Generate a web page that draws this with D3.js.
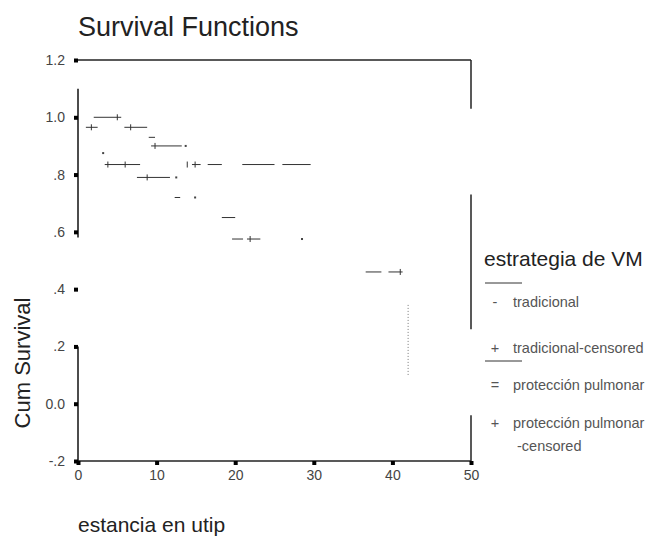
<!DOCTYPE html>
<html>
<head>
<meta charset="utf-8">
<script src="https://cdn.jsdelivr.net/npm/d3@7"></script>
<style>
    body { margin: 0; background: #fff; }
    svg { font-family: "Liberation Sans", Arial, sans-serif; }
</style>
</head>
<body>
<svg id="chart" width="659" height="537"></svg>
<script>
// tick values and labels
const xTicks = [0, 10, 20, 30, 40, 50];
const yTicks = [-0.2, 0, 0.2, 0.4, 0.6, 0.8, 1.0, 1.2];
const yTickLabels = ["-.2", "0.0", ".2", ".4", ".6", ".8", "1.0", "1.2"];

// survival steps: [start, end, cum survival]
const tradicionalSteps = [
    [2, 5.5, 1.0], [5.9, 8.8, 0.965], [9.0, 9.8, 0.93], [9.3, 13.2, 0.90],
    [14.5, 15.6, 0.835], [16.5, 18.3, 0.835], [20.9, 25, 0.835], [26, 29.6, 0.835]
];
const tradicionalCensored = [[5, 1.0], [6.7, 0.965], [9.8, 0.90], [13.9, 0.835], [14.9, 0.835]];

const proteccionSteps = [
    [1, 2.5, 0.965], [3.4, 7.9, 0.835], [7.5, 11.7, 0.79], [12.3, 13, 0.72],
    [18.3, 20, 0.65], [19.6, 21, 0.575], [21.5, 23.2, 0.575],
    [36.6, 38.6, 0.46], [39.5, 41.3, 0.46]
];
const proteccionCensored = [[1.7, 0.965], [3.8, 0.835], [6, 0.835], [8.8, 0.79], [21.9, 0.575], [41, 0.46]];
const proteccionDots = [[12.5, 0.79], [14.9, 0.72], [28.5, 0.575], [13.7, 0.90], [3.2, 0.875]];
// last drop at day 42
const proteccionDrop = [42, 0.345, 0.094];

// frame pieces that were actually drawn
const leftFrame = [[1.1, 0.58], [0.2, -0.2]];
const rightFrame = [[1.2, 1.03], [0.73, 0.26], [-0.04, -0.2]];

const svg = d3.select("#chart");

const x = d3.scaleLinear().domain([0, 50]).range([78, 471]);
const y = d3.scaleLinear().domain([-0.2, 1.2]).range([461, 60]);

// frame
svg.append("line")
    .attr("x1", x(0)).attr("x2", x(50))
    .attr("y1", y(1.2)).attr("y2", y(1.2))
    .attr("stroke", "#222").attr("stroke-width", 1.5);

svg.append("line")
    .attr("x1", x(0)).attr("x2", x(50))
    .attr("y1", y(-0.2)).attr("y2", y(-0.2))
    .attr("stroke", "#222").attr("stroke-width", 1.5);

svg.selectAll(".lframe")
    .data(leftFrame)
    .join("line")
    .attr("x1", x(0)).attr("x2", x(0))
    .attr("y1", d => y(d[0])).attr("y2", d => y(d[1]))
    .attr("stroke", "#111").attr("stroke-width", 1.5);

svg.selectAll(".rframe")
    .data(rightFrame)
    .join("line")
    .attr("x1", x(50)).attr("x2", x(50))
    .attr("y1", d => y(d[0])).attr("y2", d => y(d[1]))
    .attr("stroke", "#222").attr("stroke-width", 1.5);

// axes
const yAxis = svg.append("g")
    .attr("transform", `translate(${x(0)},0)`)
    .call(d3.axisLeft(y).tickValues(yTicks).tickFormat((d, i) => yTickLabels[i]).tickSize(0).tickPadding(13));
yAxis.select(".domain").remove();
yAxis.selectAll(".tick text").attr("font-size", 14).attr("fill", "#444")
    .attr("font-family", "Liberation Sans, Arial, sans-serif");
yAxis.selectAll(".tick").append("rect")
    .attr("x", -4).attr("y", -2).attr("width", 4).attr("height", 4).attr("fill", "#000");

const xAxis = svg.append("g")
    .attr("transform", `translate(0,${y(-0.2)})`)
    .call(d3.axisBottom(x).tickValues(xTicks).tickSize(0).tickPadding(9));
xAxis.select(".domain").remove();
xAxis.selectAll(".tick text").attr("font-size", 14).attr("fill", "#444")
    .attr("font-family", "Liberation Sans, Arial, sans-serif");
xAxis.selectAll(".tick").append("rect")
    .attr("x", -2).attr("y", 0).attr("width", 4).attr("height", 4).attr("fill", "#000");

// survival curves (horizontal pieces only, like the source)
const curves = svg.append("g").attr("stroke", "#333").attr("stroke-width", 1);

function drawSteps(steps, censored) {
    curves.append("g").selectAll("line")
        .data(steps)
        .join("line")
        .attr("x1", d => x(d[0])).attr("x2", d => x(d[1]))
        .attr("y1", d => y(d[2])).attr("y2", d => y(d[2]));

    curves.append("g").selectAll("path")
        .data(censored)
        .join("path")
        .attr("fill", "none")
        .attr("d", d => `M${x(d[0])},${y(d[1]) - 3}V${y(d[1]) + 3}`);
}

drawSteps(tradicionalSteps, tradicionalCensored);
drawSteps(proteccionSteps, proteccionCensored);

curves.append("g").selectAll("rect")
    .data(proteccionDots)
    .join("rect")
    .attr("stroke", "none").attr("fill", "#444")
    .attr("x", d => x(d[0]) - 1).attr("y", d => y(d[1]) - 1)
    .attr("width", 2).attr("height", 2);

curves.append("line")
    .attr("x1", x(proteccionDrop[0])).attr("x2", x(proteccionDrop[0]))
    .attr("y1", y(proteccionDrop[1])).attr("y2", y(proteccionDrop[2]))
    .attr("stroke", "#777")
    .attr("stroke-dasharray", "1,2");

// titles
svg.append("text")
    .attr("x", 78).attr("y", 36)
    .attr("font-size", 27).attr("fill", "#222")
    .text("Survival Functions");

svg.append("text")
    .attr("transform", "translate(30,363) rotate(-90)")
    .attr("text-anchor", "middle")
    .attr("font-size", 22).attr("fill", "#222")
    .text("Cum Survival");

svg.append("text")
    .attr("x", 78).attr("y", 532)
    .attr("font-size", 21).attr("fill", "#222")
    .text("estancia en utip");

// legend
const legend = svg.append("g").attr("font-size", 14.5).attr("fill", "#555");

legend.append("text")
    .attr("x", 484).attr("y", 266)
    .attr("font-size", 21).attr("fill", "#222")
    .text("estrategia de VM");

const legendLines = [283, 361];
legend.selectAll("line")
    .data(legendLines)
    .join("line")
    .attr("x1", 485).attr("x2", 522)
    .attr("y1", d => d).attr("y2", d => d)
    .attr("stroke", "#333");

const legendItems = [
    { sym: "-", label: "tradicional", y: 307 },
    { sym: "+", label: "tradicional-censored", y: 353 },
    { sym: "=", label: "protección pulmonar", y: 390 },
    { sym: "+", label: "protección pulmonar", y: 428 },
    { sym: "", label: "-censored", y: 451 }
];

legend.selectAll(".sym")
    .data(legendItems)
    .join("text")
    .attr("x", 495).attr("y", d => d.y)
    .attr("text-anchor", "middle")
    .text(d => d.sym);

legend.selectAll(".lab")
    .data(legendItems)
    .join("text")
    .attr("x", (d, i) => i === 4 ? 517 : 513).attr("y", d => d.y)
    .text(d => d.label);
</script>
</body>
</html>
